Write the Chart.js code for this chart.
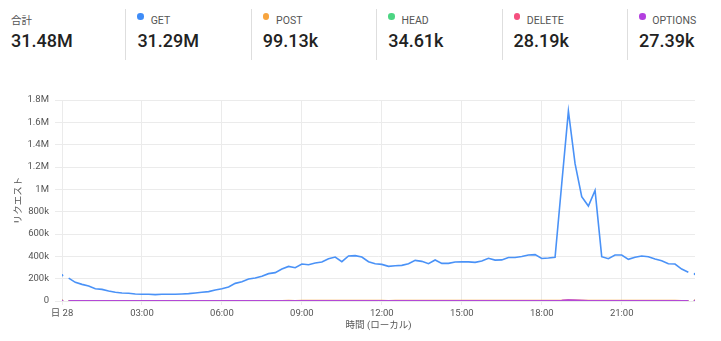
<!DOCTYPE html>
<html lang="ja">
<head>
<meta charset="utf-8">
<script src="https://cdn.jsdelivr.net/npm/chart.js@4.4.1/dist/chart.umd.min.js"></script>
<style>
  html, body { margin: 0; padding: 0; background: #fff; }
  body { width: 721px; height: 341px; position: relative; overflow: hidden;
         font-family: Roboto, "Noto Sans CJK JP", sans-serif; }
  .stats { position: absolute; top: 9px; left: 0; display: flex; }
  .stat { position: relative; width: 125.4px; height: 51px; box-sizing: border-box;
          border-left: 1px solid #dedede; }
  .stat:first-child { border-left: none; }
  .stat .lbl { position: absolute; left: 11px; top: 5px; height: 14px; line-height: 14px;
               font-size: 10.5px; color: #555; white-space: nowrap; }
  .stat .lbl.dot { padding-left: 13.3px; }
  .stat .lbl i { position: absolute; left: 0; top: -1px; width: 6.6px; height: 6.6px; border-radius: 50%; }
  .stat .val { position: absolute; left: 11px; top: 21px; height: 22px; line-height: 22px;
               font-size: 18px; font-weight: 500; color: #222; white-space: nowrap; }
  #wrap { position: absolute; left: 0; top: 88px; width: 721px; height: 253px; }
</style>
</head>
<body>
<div class="stats">
  <div class="stat"><div class="lbl">合計</div><div class="val">31.48M</div></div>
  <div class="stat"><div class="lbl dot"><i style="background:#3f8cf7"></i>GET</div><div class="val">31.29M</div></div>
  <div class="stat"><div class="lbl dot"><i style="background:#f7a43e"></i>POST</div><div class="val">99.13k</div></div>
  <div class="stat"><div class="lbl dot"><i style="background:#4cd583"></i>HEAD</div><div class="val">34.61k</div></div>
  <div class="stat"><div class="lbl dot"><i style="background:#f5507f"></i>DELETE</div><div class="val">28.19k</div></div>
  <div class="stat"><div class="lbl dot"><i style="background:#b33fdf"></i>OPTIONS</div><div class="val">27.39k</div></div>
</div>
<div id="wrap"><canvas id="reqChart"></canvas></div>
<script>
// requests per 15-minute slot, 00:00 .. 23:45
const SLOT_MIN = 15;

const GET_REQ = [
  230000, 205000, 167000, 149000, 134000, 110000, 104000, 90000, 78000, 72000, 69000, 63000,
  60000, 60000, 57000, 60000, 60000, 60000, 63000, 66000, 72000, 78000, 84000, 98000,
  110000, 125000, 158000, 173000, 197000, 206000, 221000, 245000, 254000, 286000, 310000, 298000,
  331000, 325000, 340000, 349000, 379000, 394000, 352000, 403000, 406000, 394000, 352000, 334000,
  328000, 310000, 316000, 319000, 334000, 364000, 355000, 334000, 367000, 337000, 337000, 349000,
  350000, 350000, 346000, 358000, 382000, 366000, 368000, 390000, 390000, 398000, 412000, 415000,
  381000, 385000, 391000, 1050000, 1700000, 1230000, 935000, 850000, 990000, 397000, 379000, 412000,
  412000, 373000, 391000, 403000, 397000, 376000, 361000, 334000, 331000, 286000, 258000, 242000,
];

const POST_REQ = [
  750, 710, 670, 630, 600, 560, 540, 520, 500, 480, 470, 460,
  450, 440, 440, 430, 440, 450, 460, 480, 510, 540, 580, 620,
  660, 710, 770, 830, 890, 930, 970, 1010, 1050, 1090, 1130, 1110,
  1150, 1140, 1170, 1190, 1230, 1250, 1180, 1260, 1270, 1250, 1180, 1150,
  1140, 1110, 1120, 1130, 1150, 1200, 1180, 1150, 1200, 1160, 1160, 1180,
  1180, 1180, 1170, 1190, 1230, 1200, 1210, 1240, 1240, 1250, 1270, 1280,
  1220, 1230, 1240, 1750, 2450, 1950, 1550, 1450, 1600, 1230, 1200, 1250,
  1250, 1200, 1230, 1240, 1230, 1200, 1170, 1130, 1120, 1050, 1000, 970,
];

const HEAD_REQ = [
  360, 355, 362, 358, 350, 365, 360, 357, 352, 361, 359, 356,
  354, 360, 358, 362, 355, 350, 357, 363, 359, 361, 356, 358,
  360, 364, 359, 362, 366, 358, 361, 365, 360, 363, 359, 362,
  365, 361, 366, 360, 364, 368, 362, 359, 363, 366, 361, 360,
  362, 358, 364, 361, 359, 365, 360, 363, 358, 362, 364, 361,
  360, 363, 359, 362, 365, 361, 358, 364, 360, 362, 366, 363,
  361, 359, 364, 380, 395, 372, 366, 362, 368, 360, 358, 363,
  361, 359, 362, 358, 364, 360, 357, 361, 355, 359, 356, 352,
];

const DELETE_REQ = [
  122, 118, 125, 120, 116, 121, 119, 124, 117, 120, 123, 118,
  115, 121, 119, 122, 118, 116, 120, 124, 121, 119, 117, 122,
  120, 125, 118, 121, 123, 119, 122, 120, 117, 124, 121, 118,
  123, 119, 121, 126, 120, 118, 122, 125, 119, 121, 117, 120,
  124, 118, 121, 119, 122, 120, 117, 123, 121, 118, 120, 122,
  119, 121, 124, 118, 120, 122, 119, 121, 123, 120, 118, 121,
  125, 130, 128, 2100, 7000, 4800, 2400, 700, 180, 130, 125, 122,
  121, 119, 122, 118, 120, 123, 117, 121, 119, 120, 118, 116,
];

const OPTIONS_REQ = [
  116, 112, 118, 114, 111, 117, 113, 119, 112, 115, 118, 113,
  110, 116, 114, 117, 113, 111, 115, 119, 116, 114, 112, 117,
  115, 120, 113, 116, 118, 114, 117, 115, 112, 119, 116, 113,
  118, 114, 116, 121, 115, 113, 117, 120, 114, 116, 112, 115,
  119, 113, 116, 114, 117, 115, 112, 118, 116, 113, 115, 117,
  114, 116, 119, 113, 115, 117, 114, 116, 118, 115, 113, 116,
  120, 125, 122, 2000, 6600, 4500, 2200, 650, 170, 124, 120, 117,
  116, 114, 117, 113, 115, 118, 112, 116, 114, 115, 113, 111,
];

const X_TICKS = [0, 180, 360, 540, 720, 900, 1080, 1260];
const X_TICK_LABELS = ['日 28', '03:00', '06:00', '09:00', '12:00', '15:00', '18:00', '21:00'];
const Y_TICKS_STEP = 200000;

const SERIES = [
  { label: 'GET', data: GET_REQ, color: '#4a92f7', width: 1.6, order: 0 },
  { label: 'OPTIONS', data: OPTIONS_REQ, color: '#b449d6', width: 2, order: 1 },
  { label: 'DELETE', data: DELETE_REQ, color: '#ee6aa6', width: 2, order: 2 },
  { label: 'HEAD', data: HEAD_REQ, color: '#4cd583', width: 2, order: 3 },
  { label: 'POST', data: POST_REQ, color: '#f7a43e', width: 2, order: 4 },
];

const GRID = '#ebebeb';
const TICK_TXT = '#555';
const FONT = 'Roboto, "Noto Sans CJK JP", sans-serif';

function fmtReq(v) {
  if (v === 0) return '0';
  if (v >= 1e6) return (v / 1e6) + 'M';
  return (v / 1e3) + 'k';
}

// first and last slot are partial buckets: shown as lone dots, not joined to the line
const edge = (i, n) => i === 0 || i === n - 1;

new Chart(document.getElementById('reqChart'), {
  type: 'line',
  data: {
    datasets: SERIES.map(s => {
      const n = s.data.length;
      return {
        label: s.label,
        data: s.data.map((v, i) => ({ x: i * SLOT_MIN, y: v })),
        borderColor: s.color,
        backgroundColor: s.color,
        borderWidth: s.width,
        order: s.order,
        tension: 0,
        pointRadius: ctx => edge(ctx.dataIndex, n) ? 1.3 : 0,
        pointBorderWidth: 0,
        pointHoverRadius: 0,
        segment: {
          borderColor: ctx => (ctx.p0DataIndex === 0 || ctx.p1DataIndex === n - 1) ? 'rgba(0,0,0,0)' : undefined,
        },
      };
    }),
  },
  options: {
    responsive: true,
    maintainAspectRatio: false,
    animation: false,
    layout: { padding: { top: 12, right: 26, bottom: 0, left: 0 } },
    plugins: { legend: { display: false }, tooltip: { enabled: false } },
    scales: {
      x: {
        type: 'linear',
        min: 0,
        max: 1425,
        border: { display: false },
        grid: { color: GRID, tickLength: 4, tickColor: GRID },
        afterBuildTicks: s => { s.ticks = X_TICKS.map(v => ({ value: v })); },
        afterFit: s => { s.height = 40; },
        ticks: {
          padding: 3,
          maxRotation: 0,
          color: TICK_TXT,
          font: { family: FONT, size: 9.5 },
          callback: v => X_TICK_LABELS[X_TICKS.indexOf(v)],
        },
        title: {
          display: true,
          text: '時間 (ローカル)',
          color: TICK_TXT,
          font: { family: FONT, size: 9.5 },
          padding: { top: 0, bottom: 10 },
        },
      },
      y: {
        min: 0,
        max: 1800000,
        border: { display: false },
        grid: { color: GRID, tickLength: 7, tickColor: GRID },
        afterFit: s => { s.width = 62; },
        ticks: {
          stepSize: Y_TICKS_STEP,
          padding: 6,
          color: TICK_TXT,
          font: { family: FONT, size: 9.5 },
          callback: fmtReq,
        },
        title: {
          display: true,
          text: 'リクエスト',
          color: TICK_TXT,
          font: { family: FONT, size: 9.5 },
          padding: { top: 13, bottom: 0 },
        },
      },
    },
  },
});
</script>
</body>
</html>
